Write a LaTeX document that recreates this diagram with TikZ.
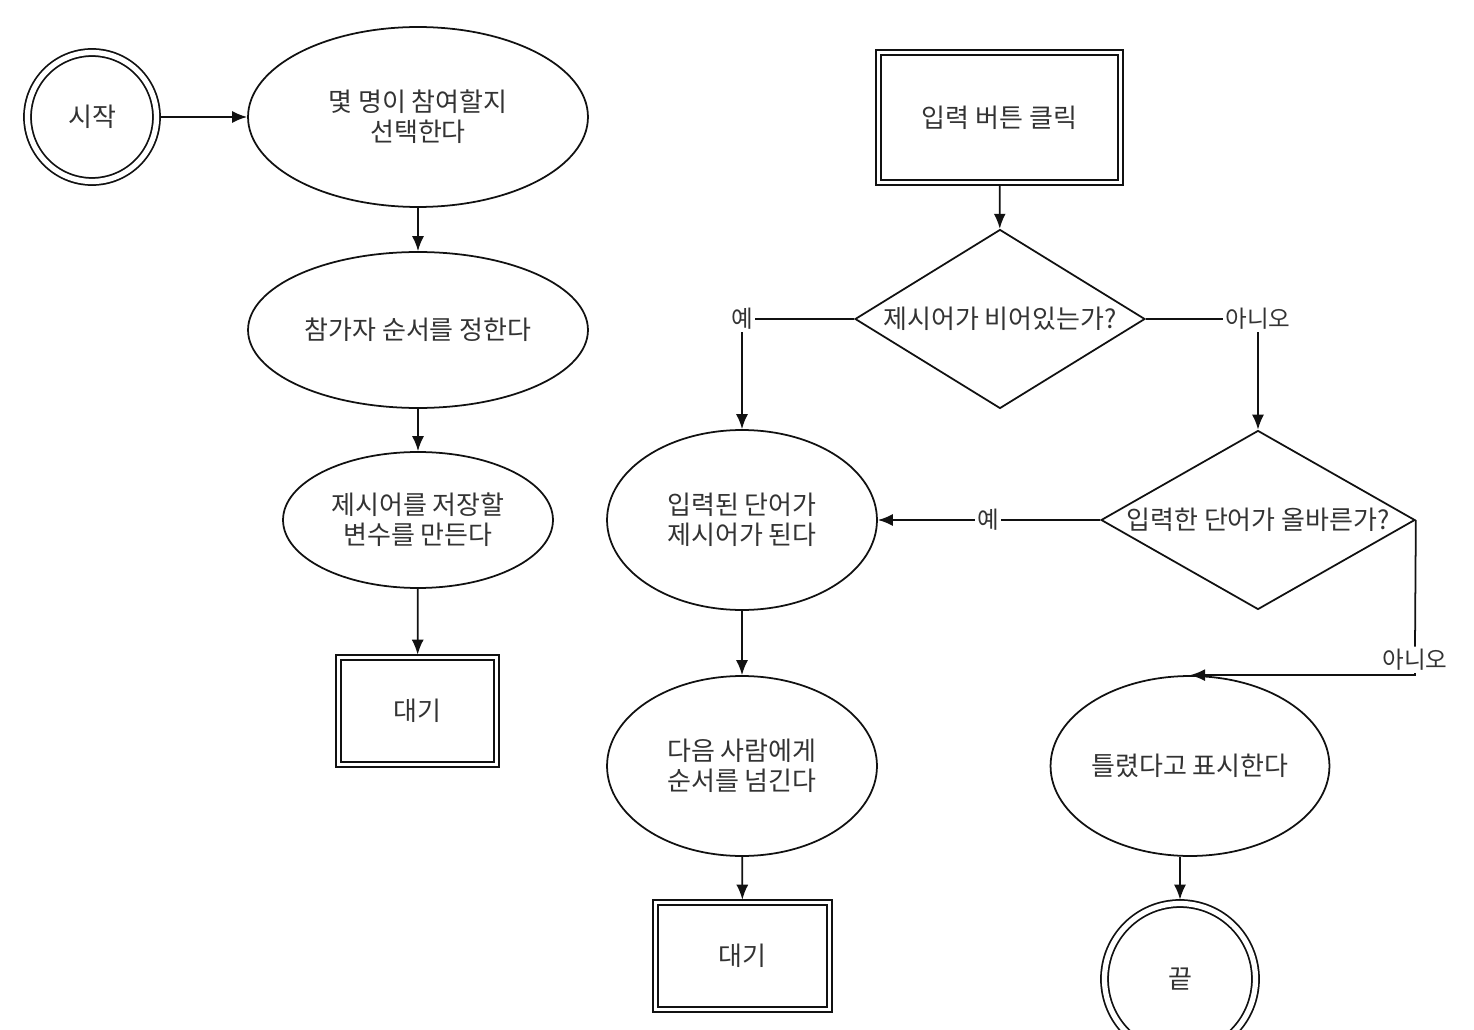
\documentclass[tikz,border=0pt]{standalone}
\usepackage{fontspec}
\usepackage{xcolor}
\usepackage{tikz}
\usetikzlibrary{arrows.meta,positioning,calc,shapes.geometric}
\newfontfamily\krfont{Noto Sans CJK KR}
\definecolor{ink}{HTML}{111111}
\definecolor{txt}{HTML}{333333}

\begin{document}
\begin{tikzpicture}[x=0.02cm,y=-0.02cm, every node/.style={font=\krfont\fontsize{14.8}{17}\selectfont,text=txt}, line width=1pt, draw=ink, el/.style={draw=ink,ellipse,inner sep=0pt,align=center}, dia/.style={draw=ink,diamond,inner sep=0pt,minimum height=3.58cm}, term/.style={draw=ink,circle,double,double distance=3pt,outer sep=2.2pt,inner sep=0pt}, wait/.style={draw=ink,rectangle,double,double distance=1.8pt,outer sep=1.6pt,inner sep=0pt,minimum height=2.14cm}, lbl/.style={fill=white,inner sep=1pt,font=\krfont\fontsize{13.4}{15}\selectfont}, arr/.style={-{Latex[length=3mm,width=2.4mm]}}]
\useasboundingbox (0,0) rectangle (1474,1030);
% left column
\node[term,minimum size=2.58cm] (start) at (92,117) {시작};
\node[el,minimum width=6.8cm,minimum height=3.6cm] (howmany) at (418,117) {몇 명이 참여할지\\선택한다};
\node[el,minimum width=6.8cm,minimum height=3.12cm] (order) at (418,330) {참가자 순서를 정한다};
\node[el,minimum width=5.4cm,minimum height=2.72cm] (var) at (418,520) {제시어를 저장할\\변수를 만든다};
\node[wait,minimum width=3.16cm] (waitA) at (417.5,711) {대기};
% right part
\node[wait,minimum width=4.84cm,minimum height=2.6cm] (click) at (999.5,117.5) {입력 버튼 클릭};
\node[dia,minimum width=5.8cm,label={center:제시어가 비어있는가?}] (empty) at (1000,319) {};
\node[dia,minimum width=6.28cm,label={center:입력한 단어가 올바른가?}] (right) at (1258,520) {};
\node[el,minimum width=5.4cm,minimum height=3.6cm] (become) at (742,520) {입력된 단어가\\제시어가 된다};
\node[el,minimum width=5.4cm,minimum height=3.6cm] (next) at (742,766) {다음 사람에게\\순서를 넘긴다};
\node[wait,minimum width=3.48cm] (waitB) at (742.5,956) {대기};
\node[el,minimum width=5.4cm,minimum height=3.6cm] (wrong) at (1190,766) {틀렸다고 표시한다};
\node[term,minimum size=3.02cm] (fin) at (1180,979) {끝};
% branch labels
\node[lbl] (yesA) at (742,319) {예};
\node[lbl] (noA) at (1258,319) {아니오};
\node[lbl] (yesB) at (988,520) {예};
\node[lbl] (noB) at (1415,660) {아니오};
% connectors
\draw[arr] (start)--(howmany);\draw[arr] (howmany)--(order);\draw[arr] (order)--(var);\draw[arr] (var)--(waitA);
\draw[arr] (click)--(empty);
\draw (empty.west)--(yesA.east);\draw[arr] (yesA.south)--(become.north);
\draw (empty.east)--(noA.west);\draw[arr] (noA.south)--(right.north);
\draw (right.west)--(yesB.east);\draw[arr] (yesB.west)--(become.east);
\draw (right.east)--(noB.north);\draw[arr] (noB.south)|-(wrong.north);
\draw[arr] (become)--(next);\draw[arr] (next)--(waitB);
\draw[arr] (fin.north|-wrong.south)--(fin.north);
\end{tikzpicture}
\end{document}
